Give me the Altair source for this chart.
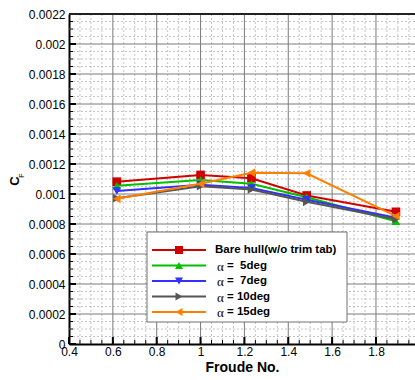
import altair as alt
import pandas as pd

# ---------------- data ----------------
froude = [0.618, 1.0, 1.232, 1.484, 1.891]
cf_bare = [0.001082, 0.001127, 0.001105, 0.000990, 0.000881]
cf_a5 = [0.001055, 0.001093, 0.001068, 0.000978, 0.000818]
cf_a7 = [0.001020, 0.001062, 0.001040, 0.000962, 0.000842]
cf_a10 = [0.000972, 0.001052, 0.001030, 0.000948, 0.000832]
cf_a15 = [0.000968, 0.001068, 0.001142, 0.001138, 0.000852]

series_names = ["Bare hull(w/o trim tab)", "α =  5deg", "α =  7deg", "α = 10deg", "α = 15deg"]
series_values = [cf_bare, cf_a5, cf_a7, cf_a10, cf_a15]
series_colors = ["#d00000", "#00c000", "#3030ff", "#555555", "#ff8000"]
series_shapes = ["square", "triangle-up", "triangle-down", "triangle-right", "triangle-left"]

x_ticks = [0.4, 0.6, 0.8, 1.0, 1.2, 1.4, 1.6, 1.8]
y_ticks = [0, 0.0002, 0.0004, 0.0006, 0.0008, 0.001, 0.0012, 0.0014,
           0.0016, 0.0018, 0.002, 0.0022]
x_minor = [round(0.4 + 0.05 * i, 2) for i in range(32)]
y_minor = [round(0.00005 * i, 6) for i in range(45)]

# ---------------- layout ----------------
W, H = 346, 330
FONT = "Liberation Sans"
xs = alt.Scale(domain=[0.4, 1.978], nice=False, zero=False)
ys = alt.Scale(domain=[0, 0.0022], nice=False, zero=False)
one = pd.DataFrame({"k": [0]})

x_axis = alt.Axis(values=x_ticks, labelExpr="'' + datum.value", title="Froude No.",
                  ticks=False, grid=False, domainColor="black", domainWidth=2,
                  labelFont=FONT, labelFontSize=12, labelColor="black", labelPadding=2,
                  labelFlush=False, labelOverlap=False,
                  titleFont=FONT, titleFontSize=14, titleFontWeight="bold",
                  titleColor="black", titlePadding=3)
y_axis = alt.Axis(values=y_ticks, labelExpr="'' + datum.value", title=None,
                  ticks=False, grid=False, domainColor="black", domainWidth=2,
                  labelFont=FONT, labelFontSize=12, labelColor="black", labelPadding=4,
                  labelFlush=False, labelOverlap=False)


def X(field):
    return alt.X(field, scale=xs, axis=x_axis)


def Y(field):
    return alt.Y(field, scale=ys, axis=y_axis)


layers = []

# minor grid
layers.append(alt.Chart(pd.DataFrame({"v": [v for v in x_minor if v not in x_ticks]}))
              .mark_rule(color="#c4c4c4", strokeWidth=1, strokeDash=[2, 2])
              .encode(x=X("v:Q")))
layers.append(alt.Chart(pd.DataFrame({"v": [v for v in y_minor if v not in y_ticks]}))
              .mark_rule(color="#c4c4c4", strokeWidth=1, strokeDash=[2, 2])
              .encode(y=Y("v:Q")))
# major grid
layers.append(alt.Chart(pd.DataFrame({"v": x_ticks[1:]}))
              .mark_rule(color="#7a7a7a", strokeWidth=1)
              .encode(x=X("v:Q")))
layers.append(alt.Chart(pd.DataFrame({"v": y_ticks[1:]}))
              .mark_rule(color="#7a7a7a", strokeWidth=1)
              .encode(y=Y("v:Q")))

# inward ticks
layers.append(alt.Chart(pd.DataFrame({"v": x_minor}))
              .mark_rule(color="black", strokeWidth=1)
              .encode(x=X("v:Q"), y=alt.value(H), y2=alt.value(H - 4)))
layers.append(alt.Chart(pd.DataFrame({"v": x_ticks}))
              .mark_rule(color="black", strokeWidth=2)
              .encode(x=X("v:Q"), y=alt.value(H), y2=alt.value(H - 7)))
layers.append(alt.Chart(pd.DataFrame({"v": y_minor}))
              .mark_rule(color="black", strokeWidth=1)
              .encode(y=Y("v:Q"), x=alt.value(0), x2=alt.value(4)))
layers.append(alt.Chart(pd.DataFrame({"v": y_ticks}))
              .mark_rule(color="black", strokeWidth=2)
              .encode(y=Y("v:Q"), x=alt.value(0), x2=alt.value(7)))

# top border
layers.append(alt.Chart(one).mark_rule(color="#222222", strokeWidth=2)
              .encode(x=alt.value(0), x2=alt.value(W), y=alt.value(0)))

# data series
for i, (name, vals, col, shp) in enumerate(zip(series_names, series_values,
                                                 series_colors, series_shapes)):
    df = pd.DataFrame({"Fn": froude, "CF": vals})
    base = alt.Chart(df).encode(x=X("Fn:Q"), y=Y("CF:Q"))
    layers.append(base.mark_line(color=col, strokeWidth=2))
    layers.append(base.mark_point(shape=shp, filled=True, color=col, size=75, opacity=1))

# y title C_F
layers.append(alt.Chart(one).mark_text(text="C", angle=270, font=FONT, fontSize=13,
                                       fontWeight="bold", color="black")
              .encode(x=alt.value(-54), y=alt.value(167)))
layers.append(alt.Chart(one).mark_text(text="F", angle=270, font=FONT, fontSize=7,
                                       color="black")
              .encode(x=alt.value(-47), y=alt.value(161.5)))

# legend
LX0, LX1, LY0, LY1 = 78, 278, 218, 308
layers.append(alt.Chart(one).mark_rect(fill="white", stroke="#707070", strokeWidth=1)
              .encode(x=alt.value(LX0), x2=alt.value(LX1), y=alt.value(LY0), y2=alt.value(LY1)))
for i, (name, col, shp) in enumerate(zip(series_names, series_colors, series_shapes)):
    yy = 236 + i * 15.5
    layers.append(alt.Chart(one).mark_rule(color=col, strokeWidth=2)
                  .encode(x=alt.value(83), x2=alt.value(137), y=alt.value(yy)))
    layers.append(alt.Chart(one).mark_point(shape=shp, filled=True, color=col, size=65, opacity=1)
                  .encode(x=alt.value(110), y=alt.value(yy)))
    if name.startswith("α"):
        layers.append(alt.Chart(one).mark_text(text="α", font="Liberation Serif", fontSize=13,
                                               align="left", baseline="middle", color="black")
                      .encode(x=alt.value(148), y=alt.value(yy + 1)))
        rest = name[2:].replace(" ", "\u00a0")
        layers.append(alt.Chart(one).mark_text(text=rest,
                                               font=FONT, fontSize=11.5, fontWeight="bold",
                                               align="left", baseline="middle", color="black")
                      .encode(x=alt.value(158), y=alt.value(yy)))
    else:
        layers.append(alt.Chart(one).mark_text(text=name, font=FONT, fontSize=11.5,
                                               fontWeight="bold", align="left",
                                               baseline="middle", color="black")
                      .encode(x=alt.value(146), y=alt.value(yy)))

chart = alt.layer(*layers).properties(
    width=W, height=H,
    autosize=alt.AutoSizeParams(type="none"),
    padding={"left": 69, "top": 14, "right": 0, "bottom": 36},
    background="white",
).configure_view(stroke=None)

chart.save("out.html", embed_options={"renderer": "svg", "actions": False})
